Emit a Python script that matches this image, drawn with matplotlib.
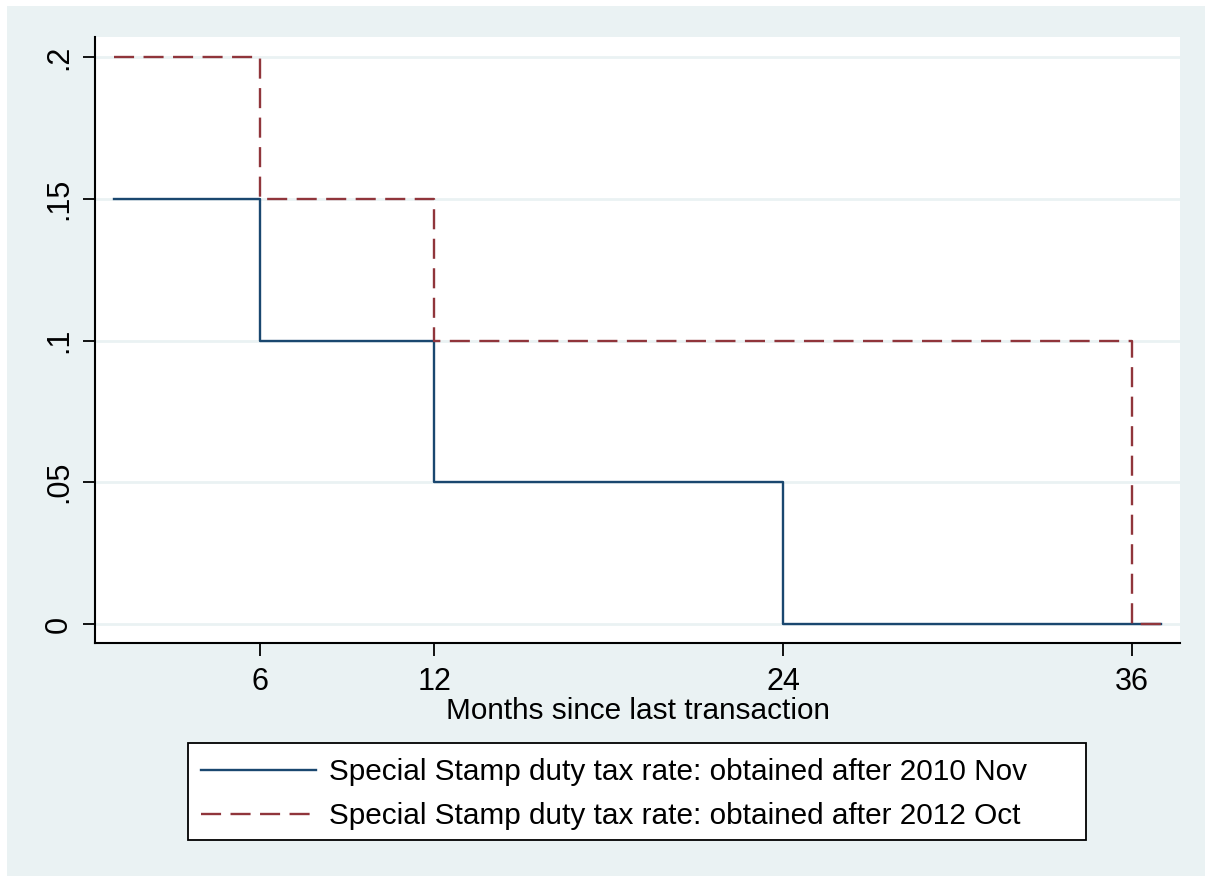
import matplotlib.pyplot as plt
from matplotlib.patches import Rectangle

plt.rcParams['font.family'] = ['Liberation Sans', 'DejaVu Sans']

# step data: months since last transaction -> tax rate
months_2010 = [1, 6, 12, 24, 37]
rate_2010 = [0.15, 0.10, 0.05, 0.0, 0.0]
months_2012 = [1, 6, 12, 36, 37]
rate_2012 = [0.20, 0.15, 0.10, 0.0, 0.0]

xticks = [6, 12, 24, 36]
yticks = [0, 0.05, 0.10, 0.15, 0.20]
ytick_labels = ['0', '.05', '.1', '.15', '.2']
label_2010 = 'Special Stamp duty tax rate: obtained after 2010 Nov'
label_2012 = 'Special Stamp duty tax rate: obtained after 2012 Oct'

BG = '#EAF2F3'
BLUE = '#1A476F'
RED = '#90353B'
W, H = 1205, 876

fig = plt.figure(figsize=(W / 100, H / 100), dpi=100)
fig.patch.set_facecolor('white')
fig.patches.append(Rectangle((7 / W, 0), 1 - 7 / W, 1 - 6 / H,
                             transform=fig.transFigure, facecolor=BG,
                             edgecolor='none', zorder=-10))

ax = fig.add_axes([95 / W, 1 - 643 / H, 1085 / W, 606 / H])
ax.set_facecolor('white')

for y in yticks:
    ax.axhline(y, color=BG, lw=2, zorder=0)

ax.step(months_2010, rate_2010, where='post', color=BLUE, lw=1.7,
        label=label_2010, zorder=3)
l2, = ax.step(months_2012, rate_2012, where='post', color=RED, lw=1.7,
              label=label_2012, zorder=4)
l2.set_dashes((8.5, 4))

ax.set_xlim(0.33, 37.64)
ax.set_ylim(-0.0067, 0.2071)

ax.set_xticks(xticks)
ax.set_yticks(yticks)
ax.set_yticklabels(ytick_labels, rotation=90, va='center')
ax.tick_params(axis='both', labelsize=22, length=9, width=1.3, pad=6)
ax.tick_params(axis='x', pad=8)

for s in ['top', 'right']:
    ax.spines[s].set_visible(False)
for s in ['left', 'bottom']:
    ax.spines[s].set_linewidth(1.5)

ax.set_xlabel('Months since last transaction', fontsize=21.4, labelpad=0)

# legend box drawn by hand (Stata style, wide right padding)
fig.patches.append(Rectangle((188 / W, 1 - 840 / H), 898 / W, 97 / H,
                             transform=fig.transFigure, facecolor='white',
                             edgecolor='black', lw=1.3, zorder=5))
leg = fig.legend(loc='center left',
                 bbox_to_anchor=(201 / W, 1 - 794 / H),
                 fontsize=21.4, handlelength=3.87, handletextpad=0.42,
                 frameon=False, borderpad=0, labelspacing=0.54,
                 borderaxespad=0)
leg.set_zorder(6)

fig.savefig('out.png', dpi=100)
